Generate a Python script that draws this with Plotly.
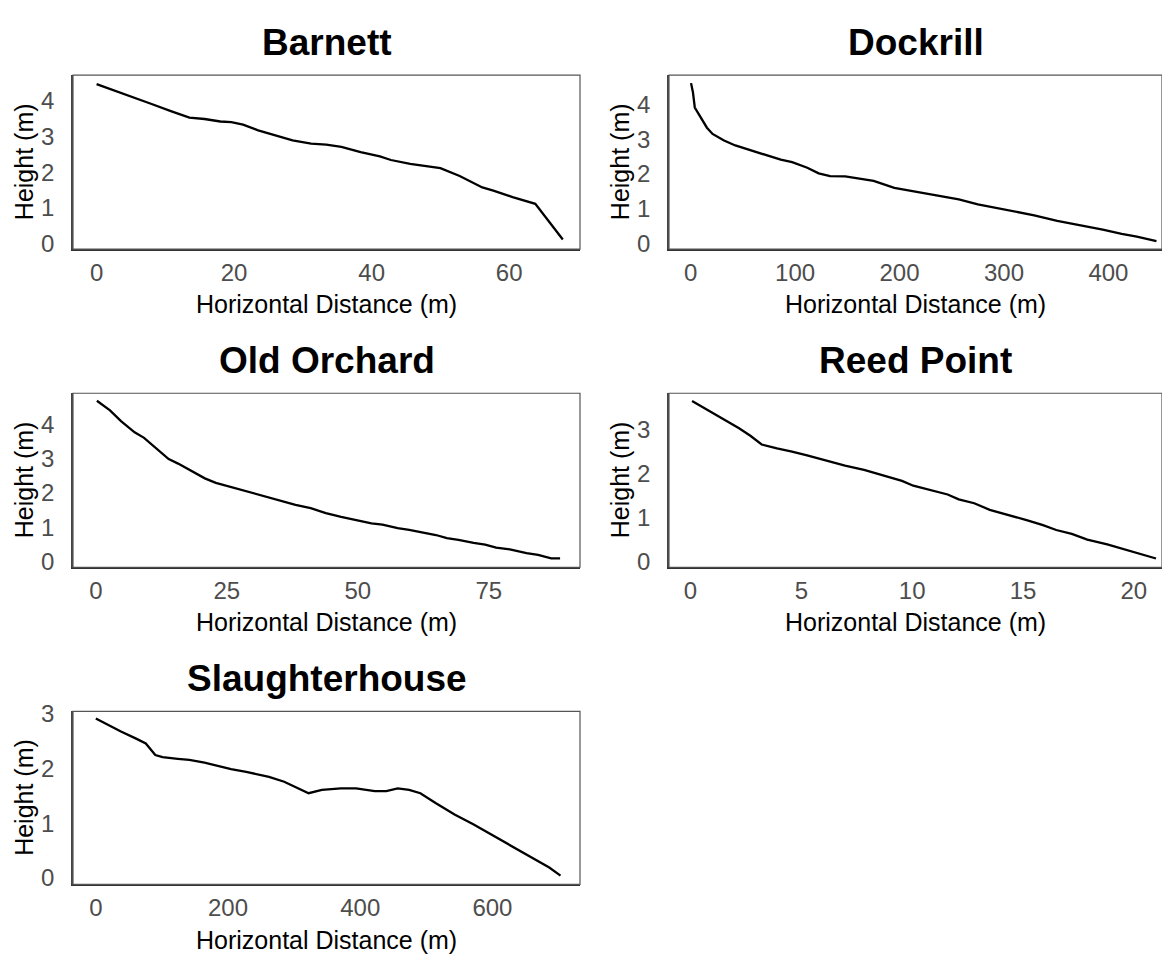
import plotly.graph_objects as go

# page is 1170x972; the figure div sits at an 8px body margin
OFF = 8
W, H = 1170 - 2 * OFF, 972 - 2 * OFF
# vertical calibration of the photographed page (measured from previous renders)
V_SCALE, V_OFF = 0.982, 18.7
# the layout is squeezed a little vertically so that no text crosses the figure edge
SQ_TOP, SQ_BOT, REF_TOP, REF_BOT = 42.0, 940.0, 25.0, 952.0

# ---- data ----
sites = ["Barnett", "Dockrill", "Old Orchard", "Reed Point", "Slaughterhouse"]

barnett_x = [0, 2.5, 5.2, 8, 10.8, 13.5, 15.7, 18, 19.6, 21.3, 23.5, 25.7, 28.5, 31.2, 33.4, 35.6,
             38.4, 41.2, 42.8, 45.6, 47.8, 50, 52.8, 56.1, 57.7, 60.5, 63.8, 65.7, 67.8]
barnett_y = [4.47, 4.30, 4.11, 3.91, 3.71, 3.53, 3.49, 3.42, 3.40, 3.33, 3.17, 3.04, 2.89, 2.80, 2.77, 2.71,
             2.56, 2.44, 2.34, 2.23, 2.18, 2.11, 1.89, 1.57, 1.48, 1.30, 1.11, 0.63, 0.11]

dockrill_x = [0.4, 2.2, 4, 10, 15.6, 21, 32, 42.8, 57.3, 75.4, 86.3, 97.2, 111.7, 122.6, 133.5, 148,
              162.5, 175.2, 195, 213, 238.6, 256.8, 275, 293, 311, 329, 351, 373, 394.6, 412.7, 427.2, 446]
dockrill_y = [4.61, 4.35, 3.91, 3.61, 3.33, 3.15, 2.96, 2.82, 2.69, 2.52, 2.41, 2.34, 2.18, 2.02, 1.94, 1.93,
              1.85, 1.80, 1.60, 1.50, 1.36, 1.27, 1.13, 1.02, 0.92, 0.81, 0.65, 0.53, 0.40, 0.28, 0.20, 0.07]

orchard_x = [0.2, 2.7, 4.8, 7.4, 9.2, 11.7, 13.9, 15.7, 18.6, 20.8, 22.9, 25.5, 28, 30.2, 32.3, 35.2,
             38.1, 41, 43.9, 46.8, 49.7, 52.6, 54.7, 57.6, 59.8, 62.7, 64.9, 67, 69.2, 72.1, 74.3,
             76.4, 79, 82.2, 84.4, 86.9, 88.6]
orchard_y = [4.68, 4.40, 4.09, 3.76, 3.60, 3.27, 2.98, 2.85, 2.61, 2.42, 2.29, 2.18, 2.07, 1.99, 1.88, 1.77,
             1.65, 1.55, 1.41, 1.30, 1.20, 1.11, 1.07, 0.97, 0.92, 0.83, 0.77, 0.68, 0.63, 0.54, 0.49,
             0.40, 0.35, 0.24, 0.19, 0.09, 0.09]

reed_x = [0.07, 0.82, 1.5, 2.19, 2.7, 3.21, 3.9, 4.58, 5.26, 6.12, 6.97, 7.83, 8.68, 9.54, 10.05, 10.9,
          11.6, 12.1, 12.8, 13.5, 14.3, 15.2, 15.9, 16.5, 17.2, 17.9, 18.8, 19.6, 20.3, 21.0]
reed_y = [3.66, 3.44, 3.24, 3.04, 2.87, 2.67, 2.58, 2.51, 2.42, 2.30, 2.19, 2.09, 1.97, 1.84, 1.73, 1.62,
          1.53, 1.42, 1.33, 1.18, 1.07, 0.94, 0.83, 0.72, 0.63, 0.50, 0.39, 0.28, 0.18, 0.07]

slaughter_x = [0, 21, 38, 61, 75.6, 90, 101, 124, 141.5, 164.5, 181.7, 204.6, 227.5, 262, 285, 307.7,
               322, 342, 370.8, 393.7, 422, 439.5, 456.7, 474, 491, 514, 542.7, 571, 600, 628.6, 657,
               686, 703]
slaughter_y = [2.92, 2.78, 2.68, 2.55, 2.46, 2.25, 2.21, 2.18, 2.16, 2.11, 2.06, 1.99, 1.94, 1.85, 1.76, 1.64,
               1.55, 1.61, 1.64, 1.64, 1.59, 1.59, 1.64, 1.61, 1.55, 1.37, 1.16, 0.98, 0.78, 0.59, 0.40,
               0.19, 0.04]

series_x = [barnett_x, dockrill_x, orchard_x, reed_x, slaughter_x]
series_y = [barnett_y, dockrill_y, orchard_y, reed_y, slaughter_y]

x_dticks = [20, 100, 25, 5, 200]
y_dticks = [1, 1, 1, 1, 1]
x_ranges = [[-3.43, 70.3], [-20.7, 451.3], [-4.36, 92.4], [-0.97, 21.27], [-34.5, 732.5]]
y_ranges = [[-0.16, 4.72], [-0.16, 4.84], [-0.17, 4.90], [-0.13, 3.84], [-0.12, 3.05]]

x_title = "Horizontal Distance (m)"
y_title = "Height (m)"

# ---- layout (reference page-pixel boxes of panels) ----
cols_px = [(73, 580), (669, 1162)]
rows_px = [(59, 239), (388, 568), (717, 896)]

FONT = "Arial, Liberation Sans, sans-serif"
fig = go.Figure()
annotations = []
shapes = []


def fx(px):
    return min(1.0, max(0.0, (px - OFF) / W))


def fy(py):
    target = SQ_TOP + (py - REF_TOP) * (SQ_BOT - SQ_TOP) / (REF_BOT - REF_TOP)
    return min(1.0, max(0.0, 1 - ((target - V_OFF) / V_SCALE) / H))


for i in range(5):
    r, c = divmod(i, 2)
    x0, x1 = cols_px[c]
    t, b = rows_px[r]
    xd = [fx(x0), fx(x1)]
    yd = [fy(b), fy(t)]
    ax = "" if i == 0 else str(i + 1)
    fig.add_trace(go.Scatter(x=series_x[i], y=series_y[i], mode="lines",
                             line=dict(color="black", width=2.3),
                             xaxis="x" + ax, yaxis="y" + ax, showlegend=False,
                             hoverinfo="skip"))
    fig.update_layout(**{
        "xaxis" + ax: dict(domain=xd, range=x_ranges[i], dtick=x_dticks[i], tick0=0,
                           showgrid=False, zeroline=False, showline=True, linecolor="#333333",
                           linewidth=2, ticks="outside", ticklen=1, tickcolor="rgba(0,0,0,0)",
                           tickfont=dict(family=FONT, size=24, color="#4D4D4D"),
                           anchor="y" + ax, fixedrange=True),
        "yaxis" + ax: dict(domain=yd, range=y_ranges[i], dtick=y_dticks[i], tick0=0,
                           showgrid=False, zeroline=False, showline=True, linecolor="#444444",
                           linewidth=1.5, ticks="outside", ticklen=12, tickcolor="rgba(0,0,0,0)",
                           tickfont=dict(family=FONT, size=24, color="#4D4D4D"),
                           anchor="x" + ax, fixedrange=True),
    })
    shapes.append(dict(type="rect", xref="paper", yref="paper", x0=xd[0], x1=xd[1], y0=yd[0], y1=yd[1],
                       line=dict(color="#555555", width=1.2), fillcolor="rgba(0,0,0,0)", layer="above"))
    cx = fx((x0 + x1) / 2)
    annotations.append(dict(text="<b>%s</b>" % sites[i], x=cx, y=fy(t - 34), xref="paper", yref="paper",
                            showarrow=False, xanchor="center", yanchor="middle", borderpad=0,
                            font=dict(family=FONT, size=37, color="black")))
    annotations.append(dict(text=x_title, x=cx, y=fy(b + 57), xref="paper", yref="paper",
                            showarrow=False, xanchor="center", yanchor="middle", borderpad=0,
                            font=dict(family=FONT, size=25, color="black")))
    annotations.append(dict(text=y_title, x=fx(x0 - 49), y=fy((t + b) / 2), xref="paper", yref="paper",
                            showarrow=False, xanchor="center", yanchor="middle", textangle=-90,
                            borderpad=0, font=dict(family=FONT, size=25, color="black")))

fig.update_layout(width=W, height=H, margin=dict(l=0, r=0, t=0, b=0),
                  paper_bgcolor="white", plot_bgcolor="white",
                  annotations=annotations, shapes=shapes)

fig.write_html("out.html")
